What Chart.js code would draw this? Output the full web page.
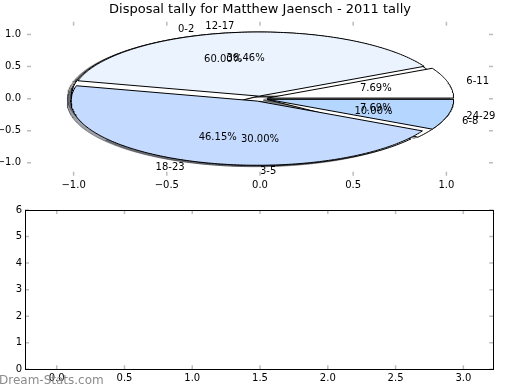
<!DOCTYPE html>
<html>
<head>
<meta charset="utf-8">
<script src="https://cdn.jsdelivr.net/npm/chart.js@4.4.1/dist/chart.umd.min.js"></script>
<style>
  body { margin: 0; background: #fff; }
  #wrap { position: relative; width: 520px; height: 390px; }
  #pieCanvas { position: absolute; left: 0; top: 0; }
  #emptyCanvas { position: absolute; left: 0; top: 200px; }
</style>
</head>
<body>
<div id="wrap">
  <canvas id="pieCanvas" width="520" height="200"></canvas>
  <canvas id="emptyCanvas" width="520" height="190"></canvas>
</div>
<script>
// chart data
const chartTitle = 'Disposal tally for Matthew Jaensch - 2011 tally';
const rangesA = ['0-2', '3-5', '6-8'];
const countsA = [6, 3, 1];
const colorsA = ['#ffffff', '#ffffff', '#ffffff'];
const rangesB = ['6-11', '12-17', '18-23', '24-29'];
const countsB = [1, 5, 6, 1];
const colorsB = ['#ffffff', '#ebf3ff', '#c5daff', '#b5d6ff'];
const pieTicks = [-1, -0.5, 0, 0.5, 1];
const pieTickLabels = ['\u22121.0', '\u22120.5', '0.0', '0.5', '1.0'];
const lowerXTicks = [0, 0.5, 1, 1.5, 2, 2.5, 3];
const lowerXLabels = ['0.0', '0.5', '1.0', '1.5', '2.0', '2.5', '3.0'];
const lowerYTicks = [0, 1, 2, 3, 4, 5, 6];
const lowerYLabels = ['0', '1', '2', '3', '4', '5', '6'];

const EXPLODE = 0.04;
const FONT = 'DejaVu Sans';

// split the counts into fractions of the whole
function slices(counts) {
  const total = counts.reduce((a, b) => a + b, 0);
  let start = 0;
  return counts.map(c => {
    const frac = c / total;
    const s = { t1: start, t2: start + frac, frac: frac };
    start += frac;
    return s;
  });
}

// outline of one wedge in data units (radius 1)
function wedgePoints(s, dx, dy) {
  const mid = Math.PI * (s.t1 + s.t2);
  const cx = EXPLODE * Math.cos(mid) + dx;
  const cy = EXPLODE * Math.sin(mid) + dy;
  const pts = [{ x: cx, y: cy }];
  const n = Math.max(4, Math.ceil(s.frac * 360));
  for (let i = 0; i <= n; i++) {
    const a = 2 * Math.PI * (s.t1 + s.frac * i / n);
    pts.push({ x: cx + Math.cos(a), y: cy + Math.sin(a) });
  }
  pts.push({ x: cx, y: cy });
  return pts;
}

function shadeOf(hex) {
  const r = parseInt(hex.slice(1, 3), 16) * 0.3;
  const g = parseInt(hex.slice(3, 5), 16) * 0.3;
  const b = parseInt(hex.slice(5, 7), 16) * 0.3;
  return `rgba(${r}, ${g}, ${b}, 0.5)`;
}

const pies = [
  { counts: countsA, ranges: rangesA, colors: colorsA },
  { counts: countsB, ranges: rangesB, colors: colorsB }
];

// shadows first, then pie A, then pie B on top
const datasets = [];
pies.forEach(p => {
  slices(p.counts).forEach((s, i) => {
    const c = shadeOf(p.colors[i]);
    datasets.push({ data: wedgePoints(s, -0.02, -0.02), backgroundColor: c, borderColor: c, borderWidth: 1, fill: 'shape' });
  });
});
pies.forEach(p => {
  slices(p.counts).forEach((s, i) => {
    datasets.push({ data: wedgePoints(s, 0, 0), backgroundColor: p.colors[i], borderColor: '#000', borderWidth: 1, fill: 'shape' });
  });
});
datasets.forEach((d, i) => {
  d.order = datasets.length - i;
  d.pointRadius = 0;
  d.tension = 0;
});

// matplotlib style tick marks pointing inward on all four sides
const innerTicks = {
  id: 'innerTicks',
  afterDraw(chart) {
    const { ctx, chartArea: a, scales: { x, y } } = chart;
    ctx.save();
    ctx.strokeStyle = '#bdbdbd';
    ctx.lineWidth = 1.5;
    ctx.beginPath();
    x.ticks.forEach(t => {
      const px = x.getPixelForValue(t.value);
      ctx.moveTo(px, a.bottom); ctx.lineTo(px, a.bottom - 4);
      ctx.moveTo(px, a.top); ctx.lineTo(px, a.top + 4);
    });
    y.ticks.forEach(t => {
      const py = y.getPixelForValue(t.value);
      ctx.moveTo(a.left, py); ctx.lineTo(a.left + 4, py);
      ctx.moveTo(a.right, py); ctx.lineTo(a.right - 4, py);
    });
    ctx.stroke();
    ctx.restore();
  }
};

const pieText = {
  id: 'pieText',
  afterDatasetsDraw(chart) {
    const { ctx, chartArea: a, scales: { x, y } } = chart;
    ctx.save();
    ctx.fillStyle = '#000';
    ctx.textBaseline = 'middle';
    ctx.font = '13px ' + FONT;
    ctx.textAlign = 'center';
    ctx.fillText(chartTitle, (a.left + a.right) / 2, 10);
    ctx.font = '10px ' + FONT;
    pies.forEach(p => {
      slices(p.counts).forEach((s, i) => {
        const mid = Math.PI * (s.t1 + s.t2);
        const cx = EXPLODE * Math.cos(mid), cy = EXPLODE * Math.sin(mid);
        const lx = cx + 1.1 * Math.cos(mid), ly = cy + 1.1 * Math.sin(mid);
        ctx.textAlign = lx > -1e-6 ? 'left' : 'right';
        ctx.fillText(p.ranges[i], x.getPixelForValue(lx), y.getPixelForValue(ly));
        ctx.textAlign = 'center';
        const tx = cx + 0.6 * Math.cos(mid), ty = cy + 0.6 * Math.sin(mid);
        ctx.fillText((s.frac * 100).toFixed(2) + '%', x.getPixelForValue(tx), y.getPixelForValue(ty));
      });
    });
    ctx.restore();
  }
};

const frameAndMark = {
  id: 'frameAndMark',
  afterDraw(chart) {
    const { ctx, chartArea: a } = chart;
    ctx.save();
    ctx.strokeStyle = '#000';
    ctx.lineWidth = 1;
    ctx.strokeRect(Math.round(a.left) + 0.5, Math.round(a.top) + 0.5, Math.round(a.right - a.left), Math.round(a.bottom - a.top));
    ctx.fillStyle = '#8c8c8c';
    ctx.font = '12px ' + FONT;
    ctx.textAlign = 'left';
    ctx.textBaseline = 'middle';
    ctx.fillText('Dream-Stats.com', -1, 181);
    ctx.restore();
  }
};

const tickFont = { family: FONT, size: 10 };

new Chart(document.getElementById('pieCanvas'), {
  type: 'line',
  data: { datasets: datasets },
  options: {
    responsive: false,
    animation: false,
    devicePixelRatio: 1,
    layout: { padding: { top: 21.7, right: 27, left: 0, bottom: 0 } },
    plugins: { legend: { display: false }, tooltip: { enabled: false } },
    scales: {
      x: {
        type: 'linear', min: -1.25, max: 1.25,
        afterBuildTicks: s => { s.ticks = pieTicks.map(v => ({ value: v })); },
        afterFit: s => { s.height = 24.3; },
        ticks: { callback: (v, i) => pieTickLabels[i], font: tickFont, color: '#000', padding: 4, maxRotation: 0, autoSkip: false },
        grid: { display: false, drawTicks: false },
        border: { display: false }
      },
      y: {
        type: 'linear', min: -1.2, max: 1.2,
        afterBuildTicks: s => { s.ticks = pieTicks.map(v => ({ value: v })); },
        afterFit: s => { s.width = 27; },
        ticks: { callback: (v, i) => pieTickLabels[i], font: tickFont, color: '#000', padding: 6, autoSkip: false },
        grid: { display: false, drawTicks: false },
        border: { display: false }
      }
    }
  },
  plugins: [innerTicks, pieText]
});

new Chart(document.getElementById('emptyCanvas'), {
  type: 'line',
  data: { datasets: [] },
  options: {
    responsive: false,
    animation: false,
    devicePixelRatio: 1,
    layout: { padding: { top: 10, right: 26.7, left: 0, bottom: 0 } },
    plugins: { legend: { display: false }, tooltip: { enabled: false } },
    scales: {
      x: {
        type: 'linear', min: -0.234, max: 3.221,
        afterBuildTicks: s => { s.ticks = lowerXTicks.map(v => ({ value: v })); },
        afterFit: s => { s.height = 20.7; },
        ticks: { callback: (v, i) => lowerXLabels[i], font: tickFont, color: '#000', padding: 3, maxRotation: 0, autoSkip: false },
        grid: { display: false, drawTicks: false },
        border: { display: false }
      },
      y: {
        type: 'linear', min: 0, max: 6,
        afterBuildTicks: s => { s.ticks = lowerYTicks.map(v => ({ value: v })); },
        afterFit: s => { s.width = 25; },
        ticks: { callback: (v, i) => lowerYLabels[i], font: tickFont, color: '#000', padding: 3, autoSkip: false },
        grid: { display: false, drawTicks: false },
        border: { display: false }
      }
    }
  },
  plugins: [innerTicks, frameAndMark]
});
</script>
</body>
</html>
